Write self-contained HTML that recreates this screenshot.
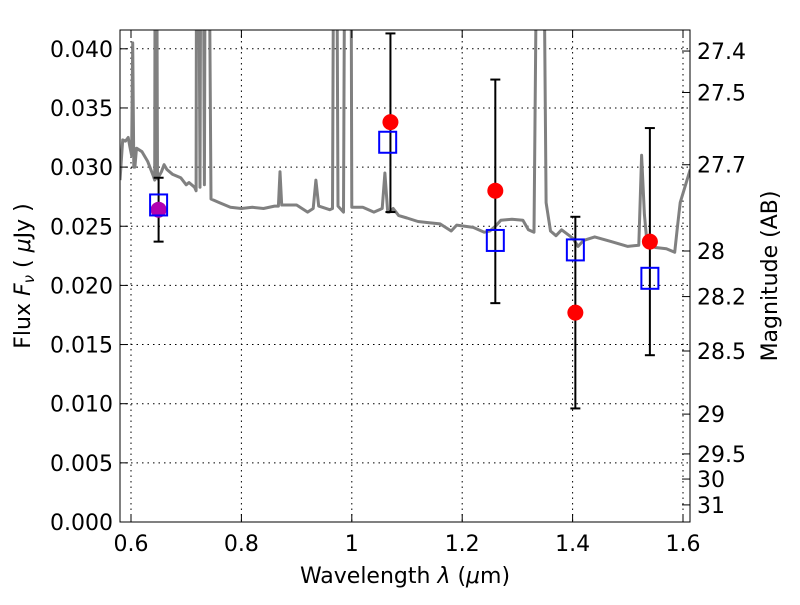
<!DOCTYPE html>
<html><head><meta charset="utf-8"><style>
body{margin:0;background:#fff}
svg text{font-family:"DejaVu Sans","Liberation Sans",sans-serif;font-size:22px;fill:#000}
</style></head><body>
<svg id="chart" width="800" height="600" xmlns="http://www.w3.org/2000/svg">
<defs><clipPath id="clip"><rect x="120" y="30" width="570" height="492"/></clipPath></defs>
<rect x="0" y="0" width="800" height="600" fill="#fff"/>
<g id="grid"></g>
<g id="spec" clip-path="url(#clip)"></g>
<g id="marks"></g>
<rect x="120" y="30" width="570" height="492" fill="none" stroke="#000" stroke-width="1"/>
<g id="axes"></g>
<text x="405" y="583" text-anchor="middle">Wavelength  <tspan font-style="italic">λ</tspan> (<tspan font-style="italic">μ</tspan>m)</text>
<text transform="translate(30,276) rotate(-90)" text-anchor="middle">Flux  <tspan font-style="italic">F</tspan><tspan font-style="italic" font-size="15" dy="4">ν</tspan><tspan dy="-4">  ( </tspan><tspan font-style="italic">μ</tspan>Jy )</text>
<text transform="translate(777,276) rotate(-90)" text-anchor="middle">Magnitude (AB)</text>
</svg>
<script>
const xTicks=[0.6,0.8,1.0,1.2,1.4,1.6];
const xTickLabels=["0.6","0.8","1","1.2","1.4","1.6"];
const yTicks=[0,0.005,0.01,0.015,0.02,0.025,0.03,0.035,0.04];
const yTickLabels=["0.000","0.005","0.010","0.015","0.020","0.025","0.030","0.035","0.040"];
const magTicks=[27.4,27.5,27.7,28,28.2,28.5,29,29.5,30,31];
const magTickLabels=["27.4","27.5","27.7","28","28.2","28.5","29","29.5","30","31"];
const specWave=[0.58,0.585,0.59,0.595,0.598,0.601,0.603,0.605,0.607,0.61,0.62,0.63,0.64,0.643,0.644,0.646,0.648,0.655,0.66,0.665,0.675,0.69,0.70,0.705,0.715,0.718,0.719,0.722,0.725,0.727,0.73,0.733,0.735,0.74,0.745,0.76,0.78,0.80,0.82,0.84,0.86,0.867,0.87,0.873,0.875,0.90,0.92,0.93,0.935,0.94,0.96,0.965,0.968,0.972,0.975,0.985,0.988,0.995,0.998,1.0,1.02,1.04,1.055,1.06,1.065,1.068,1.075,1.085,1.10,1.12,1.14,1.16,1.18,1.19,1.22,1.24,1.25,1.26,1.27,1.29,1.31,1.32,1.33,1.337,1.341,1.346,1.352,1.36,1.37,1.38,1.40,1.41,1.42,1.44,1.47,1.50,1.52,1.525,1.53,1.535,1.55,1.57,1.585,1.59,1.595,1.613];
const specFlux=[0.0289,0.0323,0.0322,0.0325,0.0317,0.031,0.0405,0.030,0.0300,0.0316,0.0313,0.0305,0.0293,0.0289,0.06,0.06,0.029,0.0296,0.0302,0.0298,0.0294,0.0291,0.0285,0.0287,0.0283,0.0280,0.06,0.06,0.0283,0.06,0.06,0.0285,0.06,0.06,0.0273,0.0270,0.0266,0.0265,0.0266,0.0265,0.0267,0.0267,0.0296,0.0268,0.0268,0.0268,0.0262,0.0265,0.0289,0.0267,0.0264,0.0265,0.06,0.06,0.0267,0.0262,0.06,0.06,0.06,0.0266,0.0266,0.0262,0.0265,0.0295,0.0262,0.0262,0.0265,0.0259,0.0257,0.0254,0.0253,0.0252,0.0246,0.0251,0.0249,0.0245,0.0246,0.0250,0.0255,0.0256,0.0255,0.0247,0.0245,0.06,0.06,0.06,0.027,0.0246,0.0242,0.0247,0.0240,0.0233,0.0238,0.0241,0.0237,0.0233,0.0234,0.0310,0.026,0.0235,0.0232,0.0231,0.0228,0.0250,0.0270,0.0298];
const obsWave=[0.65,1.07,1.26,1.405,1.54];
const obsFlux=[0.0264,0.0338,0.0280,0.0177,0.0237];
const modWave=[0.65,1.065,1.26,1.405,1.54];
const modFlux=[0.0268,0.0321,0.0238,0.0230,0.0206];
const errLow=[0.0237,0.0262,0.0185,0.0096,0.0141];
const errHigh=[0.0291,0.0413,0.0374,0.0258,0.0333];
const obsColor=["#b000b0","red","red","red","red"];

const NS="http://www.w3.org/2000/svg";
const X=w=>131+(w-0.6)*552;
const Y=f=>522-f*11830;
const M=m=>Y(Math.pow(10,(23.9-m)/2.5));
function el(tag,attrs,parent){const e=document.createElementNS(NS,tag);for(const k in attrs)e.setAttribute(k,attrs[k]);parent.appendChild(e);return e;}
const grid=document.getElementById('grid'),axes=document.getElementById('axes'),spec=document.getElementById('spec'),marks=document.getElementById('marks');
xTicks.forEach((t,i)=>{
  const g=el('line',{x1:X(t),x2:X(t),y1:30,y2:522,stroke:'#000','stroke-dasharray':'1.5,4','stroke-width':1},grid);
  
  
  el('line',{x1:X(t),x2:X(t),y1:522,y2:514,stroke:'#000'},axes);
  el('line',{x1:X(t),x2:X(t),y1:30,y2:38,stroke:'#000'},axes);
  const tx=el('text',{x:X(t),y:551,'text-anchor':'middle'},axes);tx.textContent=xTickLabels[i];
  
  
});
yTicks.forEach((t,i)=>{
  const g=el('line',{x1:120,x2:690,y1:Y(t),y2:Y(t),stroke:'#000','stroke-dasharray':'1.5,4','stroke-width':1},grid);
  
  
  el('line',{x1:120,x2:128,y1:Y(t),y2:Y(t),stroke:'#000'},axes);
  const tx=el('text',{x:113,y:Y(t)+8,'text-anchor':'end'},axes);tx.textContent=yTickLabels[i];
  
  
});
magTicks.forEach((m,i)=>{
  el('line',{x1:682,x2:690,y1:M(m),y2:M(m),stroke:'#000'},axes);
  const tx=el('text',{x:697,y:M(m)+8,'text-anchor':'start'},axes);tx.textContent=magTickLabels[i];
  
  
});
const pts=specWave.map((w,i)=>X(w).toFixed(1)+','+Y(specFlux[i]).toFixed(1)).join(' ');
const pl=el('polyline',{points:pts,fill:'none',stroke:'#808080','stroke-width':3,'stroke-linejoin':'round'},spec);


obsWave.forEach((w,i)=>{
  const x=X(w);
  const e=el('g',{},marks);
  
  
  el('line',{x1:x,x2:x,y1:Y(errLow[i]),y2:Y(errHigh[i]),stroke:'#000','stroke-width':2},e);
  el('line',{x1:x-5,x2:x+5,y1:Y(errLow[i]),y2:Y(errLow[i]),stroke:'#000','stroke-width':2},e);
  el('line',{x1:x-5,x2:x+5,y1:Y(errHigh[i]),y2:Y(errHigh[i]),stroke:'#000','stroke-width':2},e);
});
obsWave.forEach((w,i)=>{
  const c=el('circle',{cx:X(w),cy:Y(obsFlux[i]),r:8,fill:obsColor[i]},marks);
  
  
});
modWave.forEach((w,i)=>{
  const r=el('rect',{x:X(w)-8.5,y:Y(modFlux[i])-10.5,width:17,height:21,fill:'none',stroke:'#0000ff','stroke-width':2},marks);
  
  
});
</script>
</body></html>
